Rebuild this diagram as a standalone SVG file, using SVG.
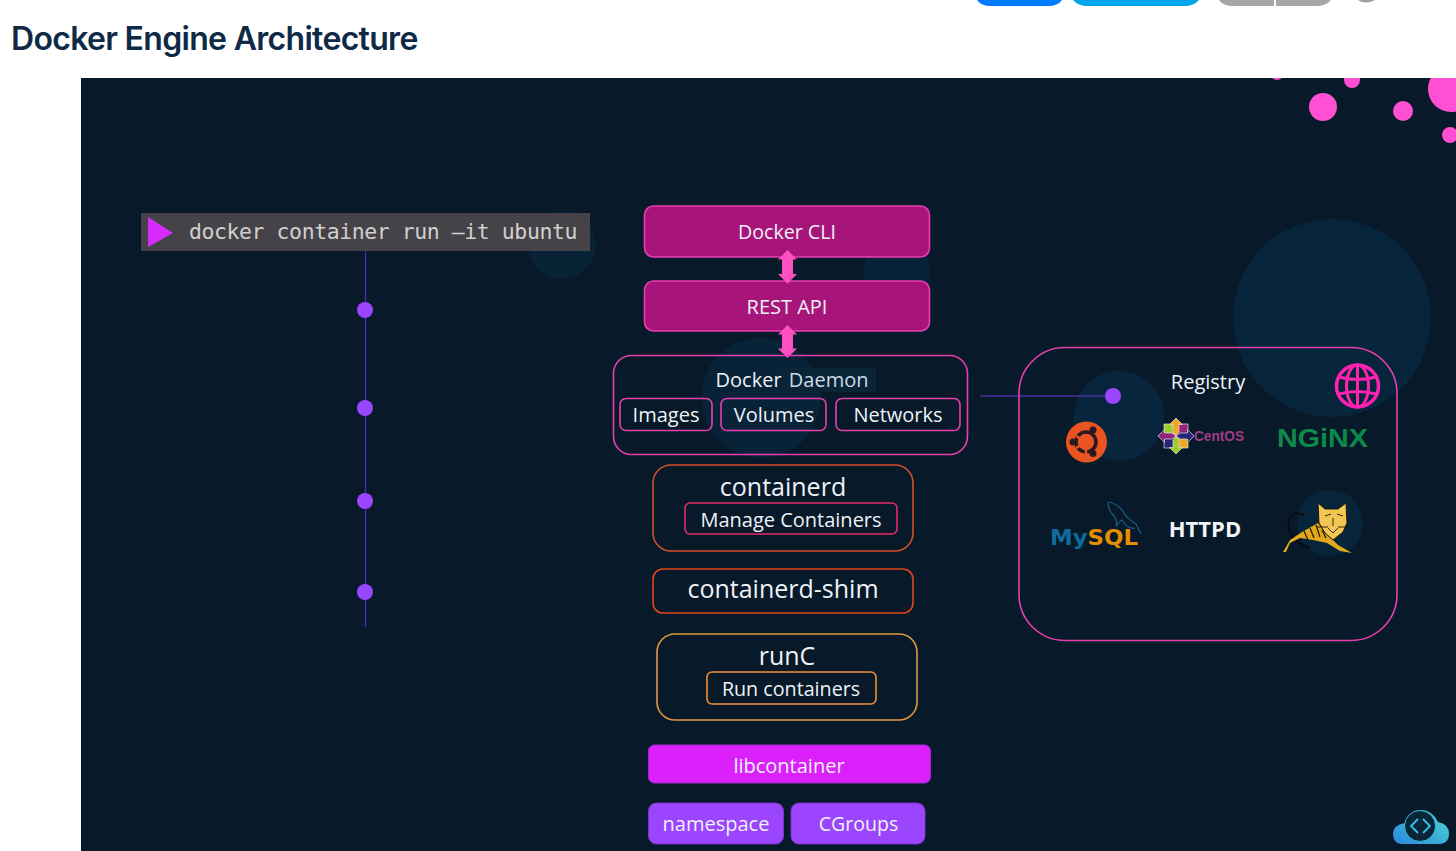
<svg xmlns="http://www.w3.org/2000/svg" width="1456" height="851" viewBox="0 0 1456 851">
<defs>
<style>
.t{font-family:"Open Sans","Noto Sans","Liberation Sans",sans-serif;fill:#eef2f7;text-anchor:middle}
.box{fill:none;stroke-width:1.6}
.pink{stroke:#e83fb0}
.solid{fill:#a8157a;stroke:#e83fb0;stroke-width:1.6}
.dot{fill:#9b45ff}
.bub{fill:#08283f}
.spot{fill:#ff4fd2}
</style>
<linearGradient id="cloud" x1="0" y1="1" x2="1" y2="0"><stop offset="0" stop-color="#2a86e0"/><stop offset="1" stop-color="#4fdcd0"/></linearGradient>
<clipPath id="slideClip"><rect x="81" y="78" width="1375" height="773"/></clipPath>
<g id="centArrow"><polygon points="0,-18 6.500,-11.500 3,-11.500 3,-4 0,0 -3,-4 -3,-11.500 -6.500,-11.500" stroke="#dcdce4" stroke-width=".7"/></g>
</defs>
<rect width="1456" height="851" fill="#fff"/>
<g id="topbar">
<path d="M977 0H1062Q1058 6 1048 6H991Q981 6 977 0Z" fill="#007bff"/>
<path d="M1073 0H1199Q1194 6 1184 6H1088Q1078 6 1073 0Z" fill="#00a6ea"/>
<path d="M1219 0H1274V6H1233Q1223 6 1219 0Z" fill="#a6a6a9"/>
<path d="M1276 0H1331Q1326 6 1316 6H1276Z" fill="#a6a6a9"/>
<path d="M1358 0H1375Q1371 2.500 1366 2.500Q1361 2.500 1358 0Z" fill="#a89f9a"/>
</g>
<text id="title" x="11" y="50" font-family="Inter,Roboto,'Liberation Sans',sans-serif" font-size="32" font-weight="600" letter-spacing="-.69" fill="#0f2a47">Docker Engine Architecture</text>
<rect id="slide" x="81" y="78" width="1375" height="773" fill="#081929"/>
<g id="bubbles">
<circle class="bub" cx="562" cy="245" r="34" opacity=".6"/>
<circle class="bub" cx="897" cy="272" r="34" opacity=".7"/>
<circle class="bub" cx="761" cy="398" r="60" opacity=".7"/>
<circle class="bub" cx="1332" cy="318" r="99" opacity=".8"/>
<circle class="bub" cx="1119" cy="416" r="45" opacity=".9"/>
<circle class="bub" cx="1330" cy="523" r="33" opacity=".8"/>
</g>
<g id="spots" clip-path="url(#slideClip)">
<circle class="spot" cx="1277" cy="74" r="6"/>
<circle class="spot" cx="1352" cy="80" r="8"/>
<circle class="spot" cx="1323" cy="107" r="14"/>
<circle class="spot" cx="1403" cy="111" r="10"/>
<circle class="spot" cx="1451" cy="89" r="23"/>
<circle class="spot" cx="1450" cy="135" r="8"/>
</g>
<g id="connectors">
<line x1="365.500" y1="251" x2="365.500" y2="627" stroke="#4a2fb0" stroke-width="1.300"/>
<line x1="980" y1="396" x2="1113" y2="396" stroke="#4a2fa0" stroke-width="1.300"/>
<circle class="dot" cx="365" cy="310" r="8"/>
<circle class="dot" cx="365" cy="408" r="8"/>
<circle class="dot" cx="365" cy="501" r="8"/>
<circle class="dot" cx="365" cy="592" r="8"/>
<circle class="dot" cx="1113" cy="396" r="8"/>
</g>
<g id="command">
<rect x="141" y="213" width="449" height="38" fill="#454347"/>
<polygon points="148,217 173,233 148,247" fill="#d62bfb"/>
<text x="189" y="239" font-family="'DejaVu Sans Mono','Liberation Mono',monospace" font-size="21.500" letter-spacing="-.43" fill="#d0d0d0">docker container run –it ubuntu</text>
</g>
<g id="docker-cli"><rect class="solid" x="644.500" y="206" width="285" height="51" rx="9"/><text class="t" x="787" y="239" font-size="19.600">Docker CLI</text></g>
<g id="rest-api"><rect class="solid" x="644.500" y="281" width="285" height="50" rx="9"/><text class="t" x="787" y="314" font-size="20">REST API</text></g>
<g id="arrows">
<path d="M787.500 250L797 259.500H793V274H797L787.500 283.500L778 274H782V259.500H778Z" fill="#ff4fc0"/>
<path d="M787.500 325L797 334.500H793V348.500H797L787.500 358L778 348.500H782V334.500H778Z" fill="#ff4fc0"/>
</g>
<g id="docker-daemon">
<rect class="box pink" x="613.500" y="355.500" width="354" height="99" rx="18"/>
<rect x="782" y="368" width="94" height="24" fill="#0a2438"/>
<text class="t" x="792" y="387" font-size="20" word-spacing="2"><tspan>Docker</tspan> <tspan fill="#cfdbe6">Daemon</tspan></text>
</g>
<g id="images"><rect class="box pink" x="620" y="398.500" width="92" height="32" rx="6"/><text class="t" x="666" y="422" font-size="20">Images</text></g>
<g id="volumes"><rect class="box pink" x="721" y="398.500" width="105" height="32" rx="6"/><text class="t" x="774" y="422" font-size="20">Volumes</text></g>
<g id="networks"><rect class="box pink" x="836" y="398.500" width="124" height="32" rx="6"/><text class="t" x="898" y="422" font-size="20">Networks</text></g>
<g id="containerd">
<rect class="box" stroke="#d2502a" x="653" y="465" width="260" height="86" rx="18"/>
<text class="t" x="783" y="496" font-size="25">containerd</text>
<rect class="box" stroke="#e82a6a" x="685" y="503" width="212" height="31" rx="5"/>
<text class="t" x="791" y="527" font-size="20">Manage Containers</text>
</g>
<g id="containerd-shim">
<rect class="box" stroke="#e0451a" x="653" y="569" width="260" height="44" rx="10"/>
<text class="t" x="783" y="598" font-size="25">containerd-shim</text>
</g>
<g id="runc">
<rect class="box" stroke="#e39a3c" x="657" y="634" width="260" height="86" rx="18"/>
<text class="t" x="787" y="665" font-size="25">runC</text>
<rect class="box" stroke="#ee9030" x="707" y="672" width="169" height="32" rx="5"/>
<text class="t" x="791" y="696" font-size="19.700">Run containers</text>
</g>
<g id="libcontainer"><rect x="648.500" y="745" width="282" height="38" rx="6" fill="#db20fb" stroke="#a02ad0"/><text class="t" x="789" y="773" font-size="20">libcontainer</text></g>
<g id="namespace"><rect x="648.500" y="803" width="135" height="41" rx="8" fill="#9b45ff" stroke="#7a35c8"/><text class="t" x="716" y="831" font-size="20">namespace</text></g>
<g id="cgroups"><rect x="791" y="803" width="134" height="41" rx="8" fill="#9b45ff" stroke="#7a35c8"/><text class="t" x="858.500" y="831" font-size="19.500">CGroups</text></g>
<g id="registry">
<rect class="box" stroke="#e83fb0" x="1019" y="347.500" width="378" height="293" rx="46"/>
<text class="t" x="1208" y="389" font-size="20">Registry</text>
</g>
<g id="globe" fill="none" stroke="#ff22b0" stroke-width="3">
<circle cx="1357.500" cy="386" r="21" stroke-width="3.500"/>
<ellipse cx="1357.500" cy="386" rx="11" ry="21"/>
<line x1="1357.500" y1="365" x2="1357.500" y2="407"/>
<path d="M1339 377Q1357.500 382 1376 377M1339 394Q1357.500 389 1376 394"/>
</g>
<g id="ubuntu">
<circle cx="1086.500" cy="442" r="20.500" fill="#e95420"/>
<circle cx="1086" cy="442" r="10" fill="none" stroke="#2a1a20" stroke-width="3.500"/>
<path d="M1086 442L1076 436M1086 442L1076 448M1086 442L1086 454" stroke="#e95420" stroke-width="2.500" fill="none"/>
<circle cx="1093" cy="430" r="3.500" fill="#2a1a20"/><circle cx="1073" cy="442" r="3.500" fill="#2a1a20"/><circle cx="1093" cy="453.500" r="3.500" fill="#2a1a20"/>
</g>
<g id="centos">
<g stroke="#dcdce4" stroke-width=".7">
<rect x="1164" y="424" width="11.500" height="11.500" fill="#9ccd2a"/>
<rect x="1176.500" y="424" width="11.500" height="11.500" fill="#932279"/>
<rect x="1164" y="436.500" width="11.500" height="11.500" fill="#262577"/>
<rect x="1176.500" y="436.500" width="11.500" height="11.500" fill="#efa724"/>
</g>
<use href="#centArrow" transform="translate(1176 436)" fill="#efa724"/>
<use href="#centArrow" transform="translate(1176 436) rotate(90)" fill="#262577"/>
<use href="#centArrow" transform="translate(1176 436) rotate(180)" fill="#9ccd2a"/>
<use href="#centArrow" transform="translate(1176 436) rotate(270)" fill="#932279"/>
<text x="1194" y="441" font-family="'Liberation Sans',sans-serif" font-size="15" font-weight="700" textLength="50" lengthAdjust="spacingAndGlyphs" fill="#a03c86">CentOS</text>
</g>
<text id="nginx" x="1277" y="447" font-family="'Liberation Sans',sans-serif" font-size="26.500" font-weight="700" textLength="91" lengthAdjust="spacingAndGlyphs" fill="#0d8a4a">NGiNX</text>
<g id="mysql">
<path d="M1108 502Q1116 503 1122 510Q1128 520 1136 524L1141 534M1108 502Q1108 510 1113 515Q1118 520 1116 527Q1120 520 1122 520Q1128 530 1135 528" fill="none" stroke="#135f88" stroke-width="1.200"/>
<text x="1050" y="545" font-family="'DejaVu Sans',sans-serif" font-size="20.500" font-weight="700" textLength="88" lengthAdjust="spacingAndGlyphs"><tspan fill="#0f6a9f">My</tspan><tspan fill="#e48e00">SQL</tspan></text>
</g>
<text id="httpd" x="1205" y="537" font-family="'Open Sans','Liberation Sans',sans-serif" font-size="22" font-weight="700" text-anchor="middle" fill="#f2f5f8">HTTPD</text>
<g id="tomcat">
<path d="M1305 516Q1295 510 1290 518Q1285 530 1297 542L1310 548" fill="none" stroke="#0b0b0b" stroke-width="1.800"/>
<path d="M1283 552L1290 540L1302 532L1318 523L1325 533L1333 540L1338 545L1352 553L1340 551L1327 543L1313 540L1300 538L1290 543L1286 552Z" fill="#e0a81c"/>
<path d="M1304 531L1308 540M1310 528L1314 538M1316 525L1320 537M1322 530L1326 538" stroke="#201608" stroke-width="1.200" fill="none"/>
<path d="M1318 503L1325 509L1338 509L1346 503L1347 523L1343 532L1333 540L1325 533L1319 523Z" fill="#f3c552" stroke="#20160a" stroke-width="1"/>
<path d="M1325 516L1331 514M1337 514L1343 516M1333 518V526M1328 528L1333 533L1338 528M1317 527H1328M1338 527H1349" stroke="#20160a" stroke-width=".9" fill="none"/>
</g>
<g id="cloud-logo">
<path d="M1401 844Q1393 843 1393 834Q1393 825 1405 823Q1411 810 1421 810Q1432 810 1438 822Q1449 824 1449 834Q1449 843 1440 844Z" fill="url(#cloud)"/>
<circle cx="1420" cy="826" r="15.500" fill="#0a2438" stroke="#30b8d8"/>
<path d="M1418 819L1411 826L1418 833M1423 819L1430 826L1423 833" fill="none" stroke="#35c0e8" stroke-width="1.800"/>
</g>
</svg>
